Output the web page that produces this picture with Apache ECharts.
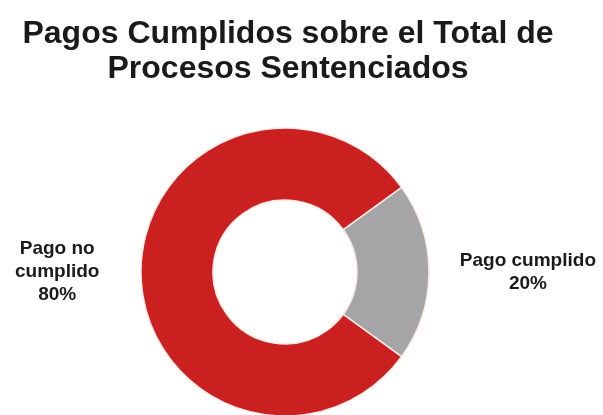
<!DOCTYPE html>
<html>
<head>
<meta charset="utf-8">
<script src="https://cdn.jsdelivr.net/npm/echarts@6/dist/echarts.min.js"></script>
<style>html,body{margin:0;padding:0;background:#fff;}#c{width:603px;height:415px;}</style>
</head>
<body>
<div id="c"></div>
<script>
const titleText = "Pagos Cumplidos sobre el Total de\nProcesos Sentenciados";
const categories = ["Pago cumplido", "Pago no cumplido"];
const labelTexts = ["Pago cumplido\n20%", "Pago no\ncumplido\n80%"];
const values = [20, 80];
const colors = ["#a5a5a7", "#cb2020"];

const chart = echarts.init(document.getElementById('c'));
chart.setOption({
  animation: false,
  title: {
    text: titleText,
    left: 283,
    textAlign: 'center',
    top: 12,
    textStyle: {
      fontFamily: 'Liberation Sans, Arial, sans-serif',
      fontSize: 32,
      fontWeight: 'bold',
      color: '#1a1a1a',
      lineHeight: 35
    }
  },
  series: [{
    type: 'pie',
    center: [285, 272],
    radius: [72, 144],
    startAngle: 36,
    clockwise: true,
    avoidLabelOverlap: false,
    itemStyle: { borderColor: '#fbe9e4', borderWidth: 1.5 },
    labelLine: { show: false, length: 14, length2: 0 },
    labelLayout: function (p) { return { dx: p.dataIndex === 0 ? 8 : 0, dy: 0 }; },
    label: {
      position: 'outside',
      alignTo: 'edge',
      edgeDistance: 15,
      formatter: function (p) { return '{t|' + labelTexts[p.dataIndex].split('\n').join('}\n{t|') + '}'; },
      rich: {
        t: {
          align: 'center',
          fontFamily: 'Liberation Sans, Arial, sans-serif',
          fontSize: 19,
          fontWeight: 'bold',
          color: '#1a1a1a',
          lineHeight: 23
        }
      }
    },
    data: categories.map((c, i) => ({ name: c, value: values[i], itemStyle: { color: colors[i] } }))
  }]
});
</script>
</body>
</html>
